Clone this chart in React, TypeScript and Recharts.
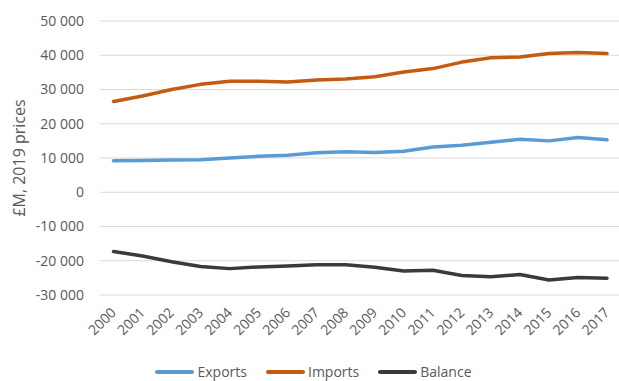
import React from "react";
import { LineChart, Line, XAxis, YAxis, CartesianGrid, Legend } from "recharts";

const years = ["2000","2001","2002","2003","2004","2005","2006","2007","2008","2009","2010","2011","2012","2013","2014","2015","2016","2017"];
const exportsValues = [9200, 9300, 9400, 9500, 10000, 10500, 10800, 11500, 11800, 11600, 12000, 13200, 13700, 14600, 15500, 15000, 16000, 15300];
const importsValues = [26500, 28100, 30000, 31500, 32400, 32400, 32200, 32800, 33100, 33700, 35100, 36100, 38000, 39300, 39500, 40500, 40800, 40500];
const balanceValues = [-17300, -18600, -20300, -21700, -22300, -21800, -21500, -21200, -21200, -21900, -23000, -22800, -24300, -24700, -24000, -25600, -24900, -25100];
const seriesNames = ["Exports", "Imports", "Balance"];
const yTicks = [-30000, -20000, -10000, 0, 10000, 20000, 30000, 40000, 50000];
const yAxisTitle = "£M, 2019 prices";

const data = years.map((y, i) => ({
  year: y,
  Exports: exportsValues[i],
  Imports: importsValues[i],
  Balance: balanceValues[i],
}));

const FONT = "'Open Sans', sans-serif";
const TEXT = "#595959";

const fmt = (v: number) => {
  const s = Math.abs(v).toString().replace(/\B(?=(\d{3})+(?!\d))/g, " ");
  return (v < 0 ? "-" : "") + s;
};

const XTick = (props: any) => {
  const { x, y, payload } = props;
  return (
    <g transform={`translate(${x},${y + 13})`}>
      <text transform="rotate(-45)" textAnchor="end" dy="0.35em" fill={TEXT} fontSize={14} fontFamily={FONT}>
        {payload.value}
      </text>
    </g>
  );
};

const YTitle = (props: any) => {
  const vb = props.viewBox || {};
  const cy = vb.y + vb.height / 2;
  const cx = 19;
  return (
    <text x={cx} y={cy} transform={`rotate(-90, ${cx}, ${cy})`} textAnchor="middle" dominantBaseline="central" fill={TEXT} fontSize={16} fontFamily={FONT}>
      {yAxisTitle}
    </text>
  );
};

const LegendContent = (props: any) => {
  const payload = [...(props.payload || [])].sort(
    (a: any, b: any) => seriesNames.indexOf(a.value) - seriesNames.indexOf(b.value)
  );
  return (
    <div style={{ display: "flex", justifyContent: "center", alignItems: "center", height: 18, paddingLeft: 4, fontFamily: FONT, fontSize: 14, color: TEXT }}>
      {payload.map((p: any, i: number) => (
        <div key={p.value} style={{ display: "flex", alignItems: "center", marginLeft: i === 0 ? 0 : 19 }}>
          <span style={{ display: "inline-block", width: 39, height: 4, borderRadius: 2, background: p.color, marginRight: 3 }} />
          <span style={{ lineHeight: "18px" }}>{p.value}</span>
        </div>
      ))}
    </div>
  );
};

export default function App() {
  return (
    <div style={{ position: "fixed", left: 0, top: 0, width: 619, height: 381, overflow: "hidden", background: "#fff" }}>
      <LineChart width={623} height={381} data={data} margin={{ top: 21, right: 0, bottom: 0, left: 0 }}>
        <CartesianGrid vertical={false} stroke="#D9D9D9" strokeWidth={1} />
        <XAxis
          dataKey="year"
          axisLine={false}
          tickLine={false}
          tickSize={0}
          interval={0}
          height={68}
          padding={{ left: 13.5, right: 16 }}
          tick={<XTick />}
        />
        <YAxis
          width={100}
          domain={[-30000, 50000]}
          ticks={yTicks}
          axisLine={false}
          tickLine={false}
          tickSize={0}
          tickMargin={16}
          tickFormatter={fmt}
          tick={{ fill: TEXT, fontSize: 14, fontFamily: FONT }}
          label={<YTitle />}
        />
        <Legend verticalAlign="bottom" align="center" height={18} content={<LegendContent />} wrapperStyle={{ margin: 0, padding: 0 }} />
        <Line type="linear" dataKey="Exports" stroke="#5B9BD5" strokeWidth={3.5} strokeLinecap="round" strokeLinejoin="round" dot={false} activeDot={false} isAnimationActive={false} />
        <Line type="linear" dataKey="Imports" stroke="#C55A11" strokeWidth={3.5} strokeLinecap="round" strokeLinejoin="round" dot={false} activeDot={false} isAnimationActive={false} />
        <Line type="linear" dataKey="Balance" stroke="#3A3A3A" strokeWidth={3.5} strokeLinecap="round" strokeLinejoin="round" dot={false} activeDot={false} isAnimationActive={false} />
      </LineChart>
    </div>
  );
}
